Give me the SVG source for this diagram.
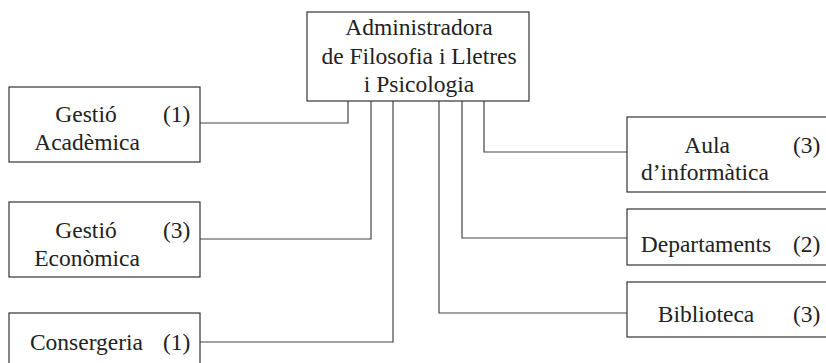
<svg xmlns="http://www.w3.org/2000/svg" width="826" height="363" viewBox="0 0 826 363">
<style>
.box{fill:#fff;stroke:#333;stroke-width:1.2}
.ln{fill:none;stroke:#444;stroke-width:1.2}
text{font-family:"Liberation Serif","Times New Roman",serif;font-size:23.5px;fill:#222}
.m{text-anchor:middle}
</style>
<rect width="826" height="363" fill="#fff"/>
<g id="connectors">
<polyline class="ln" points="200,123 348,123 348,101"/>
<polyline class="ln" points="200,239 371,239 371,101"/>
<polyline class="ln" points="200,342 393,342 393,101"/>
<polyline class="ln" points="627,152 484,152 484,101"/>
<polyline class="ln" points="627,238 462,238 462,101"/>
<polyline class="ln" points="627,313 439,313 439,101"/>
</g>
<g id="admin">
<rect class="box" x="307" y="12" width="222" height="89"/>
<text class="m" x="419" y="35">Administradora</text>
<text class="m" x="419" y="64">de Filosofia i Lletres</text>
<text class="m" x="419" y="92">i Psicologia</text>
</g>
<g id="gestio-academica">
<rect class="box" x="9" y="87" width="191" height="75"/>
<text class="m" x="86" y="122">Gestió</text>
<text x="163" y="122">(1)</text>
<text class="m" x="87" y="150">Acadèmica</text>
</g>
<g id="gestio-economica">
<rect class="box" x="9" y="202" width="191" height="75"/>
<text class="m" x="86" y="238">Gestió</text>
<text x="163" y="238">(3)</text>
<text class="m" x="87" y="266">Econòmica</text>
</g>
<g id="consergeria">
<rect class="box" x="9" y="313" width="191" height="60"/>
<text class="m" x="86.5" y="350">Consergeria</text>
<text x="163" y="350">(1)</text>
</g>
<g id="aula">
<rect class="box" x="627" y="117" width="220" height="75"/>
<text class="m" x="707" y="153">Aula</text>
<text x="793" y="153">(3)</text>
<text class="m" x="705" y="180">d’informàtica</text>
</g>
<g id="departaments">
<rect class="box" x="627" y="209" width="220" height="56"/>
<text class="m" x="706" y="252">Departaments</text>
<text x="793" y="252">(2)</text>
</g>
<g id="biblioteca">
<rect class="box" x="627" y="282" width="220" height="55"/>
<text class="m" x="706" y="322">Biblioteca</text>
<text x="793" y="322">(3)</text>
</g>
</svg>
